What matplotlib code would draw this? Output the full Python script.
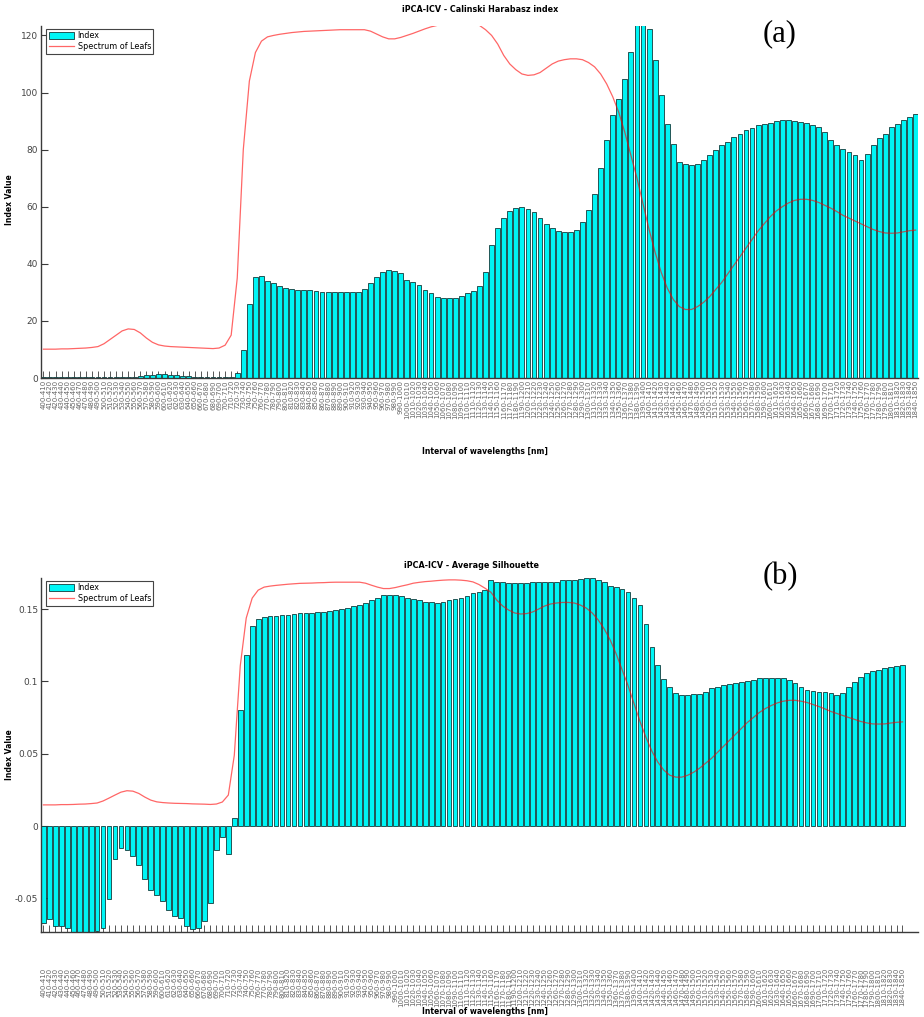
import matplotlib
matplotlib.use('Agg')
import matplotlib.pyplot as plt
from matplotlib.patches import Patch
from matplotlib.lines import Line2D
import numpy as np

# wavelength intervals (10 nm steps, 400-1850 nm)
interval_starts = list(range(400, 1850, 10))
interval_labels = [f"{w}-{w + 10}" for w in interval_starts]

# (a) Calinski Harabasz index per interval
index_ch = [0.2, 0.2, 0.2, 0.2, 0.2, 0.2, 0.2, 0.2, 0.2, 0.2, 0.2, 0.2, 0.3, 0.3, 0.4,
            0.5, 0.8, 1.0, 1.2, 1.3, 1.3, 1.2, 1.0, 0.8, 0.6, 0.4, 0.3, 0.2, 0.2, 0.2, 0.2, 0.3,
            1.7, 9.8, 26, 35.4, 35.7, 34, 33.2, 32.3, 31.7, 31.1, 31.0, 30.9, 30.8, 30.6,
            30.2, 30.0, 30.0, 30.0, 30.0, 30.2, 30.2, 31.1, 33.2, 35.5, 37.2, 37.8, 37.5,
            36.7, 34.5, 33.7, 32.5, 31.0, 29.6, 28.4, 27.9, 27.9, 27.9, 28.7, 29.6, 30.6,
            32.2, 37.2,
            46.5, 52.5, 56, 58.5, 59.5, 59.8, 59.3, 58, 56, 54, 52.5, 51.5, 51, 51, 51.8,
            54.7, 58.8, 64.6, 73.4, 83.3, 92, 97.9, 104.9, 114.2, 124, 124, 122.3, 111.5,
            99, 89.1, 82.1, 75.7, 75.1, 74.5, 74.8, 76.3, 78, 80, 81.5, 82.7, 84.4, 85.6,
            86.8, 87.4, 88.5, 89.1, 89.3, 90, 90.2, 90.2, 90, 89.7, 89.3, 88.5, 87.9, 86.2,
            83.3, 81.5, 80.3, 79.2, 78, 76.5, 78.6, 81.5, 83.9, 85.6, 87.9, 89.1, 90.3,
            91.5, 92.6]

# leaf spectrum as drawn on panel (a)
spectrum_a = [10.1, 10.1, 10.1, 10.2, 10.2, 10.3, 10.4, 10.5, 10.7, 11.0, 12.0, 13.5,
              15.0, 16.5, 17.2, 17.0, 15.8, 14.0, 12.5, 11.6, 11.2, 11.0, 10.9, 10.8,
              10.7, 10.6, 10.5, 10.4, 10.3, 10.5, 11.5, 15.0, 35.0, 80.0, 104.0, 114.0,
              118.0, 119.5, 120.0, 120.4, 120.7, 121.0, 121.2, 121.4, 121.5, 121.6, 121.7,
              121.8, 121.9, 122.0, 122.0, 122.0, 122.0, 122.0, 121.5, 120.5, 119.5, 118.8,
              118.8, 119.3, 120.0, 120.7, 121.5, 122.3, 123.0, 123.5, 124.0, 124.5, 124.8,
              124.8, 124.5, 124.2, 123.5, 122.0, 120.0, 117.0, 113.0, 110.0, 108.0, 106.5,
              106.0, 106.2, 107.0, 108.5, 110.0, 111.0, 111.5, 111.8, 111.8, 111.5, 110.5,
              109.0, 106.5, 103.0, 98.5, 93.0, 86.0, 78.0, 70.0, 61.0, 52.0, 44.0, 37.0,
              31.5, 27.5, 25.0, 24.0, 24.0, 25.0, 26.5, 28.5, 31.0, 33.5, 36.5, 39.5, 42.5,
              45.5, 48.5, 51.5, 54.0, 56.5, 58.5, 60.0, 61.3, 62.2, 62.6, 62.6, 62.2, 61.5,
              60.5, 59.5, 58.3, 57.0, 56.0, 55.0, 54.0, 53.0, 52.0, 51.3, 50.8, 50.7, 50.8,
              51.2, 51.6, 51.8]

# (b) average silhouette per interval
index_sil = [-0.0673, -0.0643, -0.0692, -0.0692, -0.0703, -0.0740, -0.0745, -0.0745,
             -0.0740, -0.0727, -0.0703, -0.0507, -0.0230, -0.0154, -0.0166, -0.0207,
             -0.0270, -0.0367, -0.0443, -0.0477, -0.0519, -0.0581, -0.0622, -0.0634,
             -0.0692, -0.0715, -0.0703, -0.0655, -0.0535, -0.0166, -0.0078, -0.0196,
             0.0053, 0.080, 0.118, 0.138, 0.143, 0.1445, 0.145, 0.1455, 0.146, 0.146,
             0.1465, 0.147, 0.147, 0.1475, 0.148, 0.148, 0.149, 0.1495, 0.150, 0.151,
             0.152, 0.153, 0.154, 0.156, 0.158, 0.160, 0.160, 0.160, 0.159, 0.158, 0.157,
             0.156, 0.155, 0.155, 0.1545, 0.155, 0.156, 0.157, 0.158, 0.159, 0.161, 0.162,
             0.163,
             0.170, 0.169, 0.169, 0.168, 0.168, 0.168, 0.168, 0.169, 0.169, 0.169, 0.169,
             0.169, 0.170, 0.170, 0.170,
             0.171, 0.1715, 0.1715, 0.170, 0.169, 0.166, 0.165, 0.164, 0.162, 0.158, 0.153,
             0.140, 0.124, 0.111, 0.102, 0.096, 0.092, 0.0906, 0.0906, 0.091, 0.0915,
             0.0927, 0.0954, 0.096,
             0.0975, 0.098, 0.099, 0.0996, 0.100, 0.101, 0.1024, 0.1024, 0.1024, 0.1024,
             0.1024, 0.101, 0.099, 0.096, 0.094, 0.0935, 0.093, 0.093, 0.092, 0.0906,
             0.092, 0.096, 0.0996, 0.103, 0.106, 0.107, 0.108, 0.109, 0.110, 0.1105, 0.111]

# leaf spectrum as drawn on panel (b)
spectrum_b = [0.0146, 0.0146, 0.0146, 0.0148, 0.0148, 0.0149, 0.0151, 0.0152, 0.0155,
              0.0159, 0.0173, 0.0193, 0.0214, 0.0234, 0.0244, 0.0241, 0.0225, 0.0200,
              0.0179, 0.0167, 0.0162, 0.0159, 0.0157, 0.0156, 0.0155, 0.0153, 0.0152,
              0.0151, 0.0149, 0.0152, 0.0166, 0.0214, 0.0489, 0.1108, 0.1438, 0.1576,
              0.1631, 0.1652, 0.1659, 0.1664, 0.1668, 0.1672, 0.1675, 0.1678, 0.1679,
              0.1680, 0.1682, 0.1683, 0.1685, 0.1686, 0.1686, 0.1686, 0.1686, 0.1686,
              0.1679, 0.1665, 0.1652, 0.1642, 0.1642, 0.1649, 0.1659, 0.1668, 0.1679,
              0.1685, 0.1690, 0.1693, 0.1697, 0.1700, 0.1702, 0.1702, 0.1700, 0.1696,
              0.1688, 0.1670, 0.1645, 0.1617, 0.1562, 0.1521, 0.1493, 0.1473, 0.1466,
              0.1469, 0.1480, 0.1500, 0.1521, 0.1535, 0.1542, 0.1546, 0.1546, 0.1542,
              0.1528, 0.1507, 0.1473, 0.1425, 0.1363, 0.1287, 0.1191, 0.1081, 0.0971,
              0.0847, 0.0723, 0.0613, 0.0517, 0.0441, 0.0386, 0.0351, 0.0338, 0.0338,
              0.0351, 0.0372, 0.0400, 0.0434, 0.0468, 0.0510, 0.0551, 0.0592, 0.0633,
              0.0675, 0.0716, 0.0750, 0.0785, 0.0812, 0.0833, 0.0851, 0.0863, 0.0869,
              0.0869, 0.0863, 0.0854, 0.0840, 0.0826, 0.0810, 0.0792, 0.0778, 0.0764,
              0.0750, 0.0737, 0.0723, 0.0713, 0.0706, 0.0705, 0.0706, 0.0712, 0.0717,
              0.0720]

BAR_FACE = '#00f5f5'
BAR_EDGE = '#123c3c'
AXIS_COL = '#3a3a3a'


def draw_panel(ax, values, spectrum, xlim, ylim, yticks, yticklabels, label_pad):
    x = np.arange(len(values))
    ax.bar(x, values, width=0.8, color=BAR_FACE, edgecolor=BAR_EDGE, linewidth=0.6, zorder=2)
    ax.plot(x, spectrum, color='red', alpha=0.6, linewidth=0.9, zorder=3)

    ax.set_xlim(*xlim)
    ax.set_ylim(*ylim)
    ax.set_xticks(x)
    ax.set_xticklabels(interval_labels, rotation=90, fontsize=5, color='#666666')
    ax.set_yticks(yticks)
    ax.set_yticklabels(yticklabels, fontsize=6.5, color='#444444')
    ax.tick_params(axis='x', direction='in', length=5, width=0.6, color=AXIS_COL, pad=label_pad)
    ax.tick_params(axis='y', direction='in', length=5, width=0.8, color=AXIS_COL, pad=2)

    for side in ('top', 'right'):
        ax.spines[side].set_visible(False)
    for side in ('left', 'bottom'):
        ax.spines[side].set_color(AXIS_COL)
        ax.spines[side].set_linewidth(1.0)

    handles = [Patch(facecolor=BAR_FACE, edgecolor=BAR_EDGE, linewidth=0.6),
               Line2D([0], [0], color='red', alpha=0.6, linewidth=0.9)]
    leg = ax.legend(handles, ['Index', 'Spectrum of Leafs'], loc='upper left',
                    bbox_to_anchor=(0.006, 0.992), borderaxespad=0, fontsize=5.8,
                    fancybox=False, framealpha=1, edgecolor='#444444',
                    handlelength=3.2, handleheight=1.1, borderpad=0.3,
                    labelspacing=0.25, handletextpad=0.4)
    leg.get_frame().set_linewidth(0.8)


def generate_figure():
    fig = plt.figure(figsize=(9.24, 10.17), dpi=100)
    W, H = 924.0, 1017.0

    # (a) Calinski Harabasz
    ax_a = fig.add_axes([41 / W, 1 - 378 / H, 877 / W, 352 / H])
    draw_panel(ax_a, index_ch, spectrum_a, (-0.4, 144.4), (0, 123.3),
               [0, 20, 40, 60, 80, 100, 120], ['0', '20', '40', '60', '80', '100', '120'],
               label_pad=1.5)
    ax_a.set_xlabel('Interval of wavelengths [nm]', fontsize=5.5, fontweight='bold')
    ax_a.xaxis.set_label_coords(0.506, -0.196)
    ax_a.set_ylabel('Index Value', fontsize=5.5, fontweight='bold')
    ax_a.yaxis.set_label_coords(-0.031, 0.506)
    fig.text(480 / W, 1 - 10 / H, 'iPCA-ICV - Calinski Harabasz index',
             fontsize=5.8, fontweight='bold', ha='center', va='center')
    fig.text(780 / W, 1 - 34 / H, '(a)', fontsize=22, family='Liberation Serif',
             ha='center', va='center')

    # (b) Average Silhouette - bars end a little short of the axis end
    ax_b = fig.add_axes([41 / W, 1 - 932 / H, 877 / W, 354 / H])
    draw_panel(ax_b, index_sil, spectrum_b, (-0.4, 146.6), (-0.0733, 0.1715),
               [-0.05, 0, 0.05, 0.1, 0.15], ['-0.05', '0', '0.05', '0.1', '0.15'],
               label_pad=26)
    ax_b.set_xlabel('Interval of wavelengths [nm]', fontsize=5.5, fontweight='bold')
    ax_b.xaxis.set_label_coords(0.506, -0.212)
    ax_b.set_ylabel('Index Value', fontsize=5.5, fontweight='bold')
    ax_b.yaxis.set_label_coords(-0.031, 0.5)
    fig.text(472 / W, 1 - 566 / H, 'iPCA-ICV - Average Silhouette',
             fontsize=5.8, fontweight='bold', ha='center', va='center')
    fig.text(780 / W, 1 - 577 / H, '(b)', fontsize=22, family='Liberation Serif',
             ha='center', va='center')

    fig.savefig('out.png', dpi=100)
    plt.close(fig)


if __name__ == '__main__':
    generate_figure()
